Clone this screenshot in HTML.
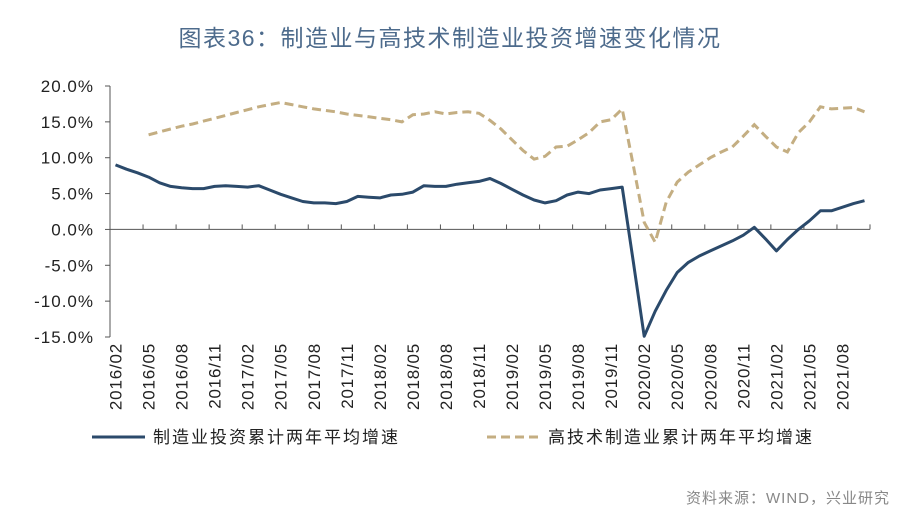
<!DOCTYPE html>
<html><head><meta charset="utf-8">
<style>
body{margin:0;background:#fff;}
svg{display:block;font-family:"Liberation Sans","Noto Sans CJK SC",sans-serif;}
</style></head>
<body>
<svg id="chart" width="900" height="519" viewBox="0 0 900 519" xmlns="http://www.w3.org/2000/svg">
<text x="450" y="46" text-anchor="middle" font-size="23" letter-spacing="1.5" fill="#4d6b8c" font-family="Liberation Sans, Noto Sans CJK SC, sans-serif">图表36：制造业与高技术制造业投资增速变化情况</text>
<g id="axes"></g>
<g id="series"></g>
<g>
  <line x1="92" y1="437" x2="145" y2="437" stroke="#2b4a6b" stroke-width="3"/>
  <text x="153" y="443" font-size="17" letter-spacing="2" fill="#222">制造业投资累计两年平均增速</text>
  <line x1="487" y1="437" x2="540" y2="437" stroke="#c4ae82" stroke-width="3" stroke-dasharray="9,5"/>
  <text x="548" y="443" font-size="17" letter-spacing="2" fill="#222">高技术制造业累计两年平均增速</text>
</g>
<text x="890" y="503" text-anchor="end" font-size="15" letter-spacing="1" fill="#888">资料来源：WIND，兴业研究</text>
</svg>
<script>
const months = [];
for (let y = 2016, m = 2; !(y === 2021 && m > 10); ) { months.push(y + '/' + String(m).padStart(2, '0')); m++; if (m > 12) { m = 1; y++; } }
const manufacturing = [9.0,8.4,7.9,7.3,6.5,6.0,5.8,5.7,5.7,6.0,6.1,6.0,5.9,6.1,5.5,4.9,4.4,3.9,3.7,3.7,3.6,3.9,4.6,4.5,4.4,4.8,4.9,5.2,6.1,6.0,6.0,6.3,6.5,6.7,7.1,6.4,5.6,4.8,4.1,3.7,4.0,4.8,5.2,5.0,5.5,5.7,5.9,-4.4,-14.9,-11.4,-8.5,-6.0,-4.6,-3.7,-3.0,-2.3,-1.6,-0.8,0.3,-1.3,-3.0,-1.4,0.0,1.2,2.6,2.6,3.1,3.6,4.0];
const hightech = [null,null,null,13.2,13.6,14.0,14.4,14.7,15.1,15.5,15.9,16.3,16.7,17.1,17.4,17.7,17.4,17.1,16.8,16.6,16.4,16.1,15.9,15.7,15.5,15.3,15.0,16.0,16.1,16.4,16.1,16.3,16.4,16.2,15.2,14.0,12.5,11.0,9.8,10.2,11.5,11.6,12.5,13.5,15.0,15.3,16.8,9.0,1.0,-1.8,3.8,6.6,8.0,9.0,10.0,10.8,11.5,13.0,14.6,13.0,11.5,10.8,13.5,15.0,17.1,16.8,16.9,17.0,16.4];
const yTicks = [20,15,10,5,0,-5,-10,-15];
const yTickLabels = ['20.0%','15.0%','10.0%','5.0%','0.0%','-5.0%','-10.0%','-15.0%'];

const X0 = 110, X1 = 870, Ytop = 86, Ybot = 337;
const n = months.length, step = (X1 - X0) / n;
const xc = i => X0 + (i + 0.5) * step;
const yv = v => Ybot - (v + 15) / 35 * (Ybot - Ytop);
const NS = 'http://www.w3.org/2000/svg';
const axes = document.getElementById('axes'), series = document.getElementById('series');
function mk(tag, attrs, parent) { const e = document.createElementNS(NS, tag); for (const k in attrs) e.setAttribute(k, attrs[k]); parent.appendChild(e); return e; }

const yAxis = mk('line', {x1: X0, y1: Ytop, x2: X0, y2: Ybot, stroke: '#555', 'stroke-width': 1}, axes);


yTicks.forEach((t, k) => {
  const tk = mk('line', {x1: X0 - 5, y1: yv(t), x2: X0, y2: yv(t), stroke: '#555'}, axes);
  
  
  const lb = mk('text', {x: X0 - 16, y: yv(t) + 6, 'text-anchor': 'end', 'font-size': 17, 'letter-spacing': 1, fill: '#222'}, axes);
  lb.textContent = yTickLabels[k];
  
  
});
const xAxis = mk('line', {x1: X0, y1: yv(0), x2: X1, y2: yv(0), stroke: '#555', 'stroke-width': 1}, axes);


for (let i = 0; i <= n; i += 3) {
  const xt = X0 + i * step;
  const tk = mk('line', {x1: xt, y1: yv(0), x2: xt, y2: yv(0) - 5, stroke: '#555'}, axes);
  
  
  if (i < n) {
    const x = xc(i) + 6, y = 343;
    const lb = mk('text', {x: x, y: y, 'text-anchor': 'end', 'font-size': 17, 'letter-spacing': 0.8, fill: '#222', transform: 'rotate(-90 ' + x + ' ' + y + ')'}, axes);
    lb.textContent = months[i];
    
    
  }
}
function path(vals) { let d = '', pen = false; vals.forEach((v, i) => { if (v === null) { pen = false; return; } d += (pen ? 'L' : 'M') + xc(i).toFixed(1) + ',' + yv(v).toFixed(1); pen = true; }); return d; }
const p2 = mk('path', {d: path(hightech), fill: 'none', stroke: '#c4ae82', 'stroke-width': 3, 'stroke-dasharray': '9,5'}, series);


const p1 = mk('path', {d: path(manufacturing), fill: 'none', stroke: '#2b4a6b', 'stroke-width': 3, 'stroke-linejoin': 'round'}, series);


</script>
</body></html>
